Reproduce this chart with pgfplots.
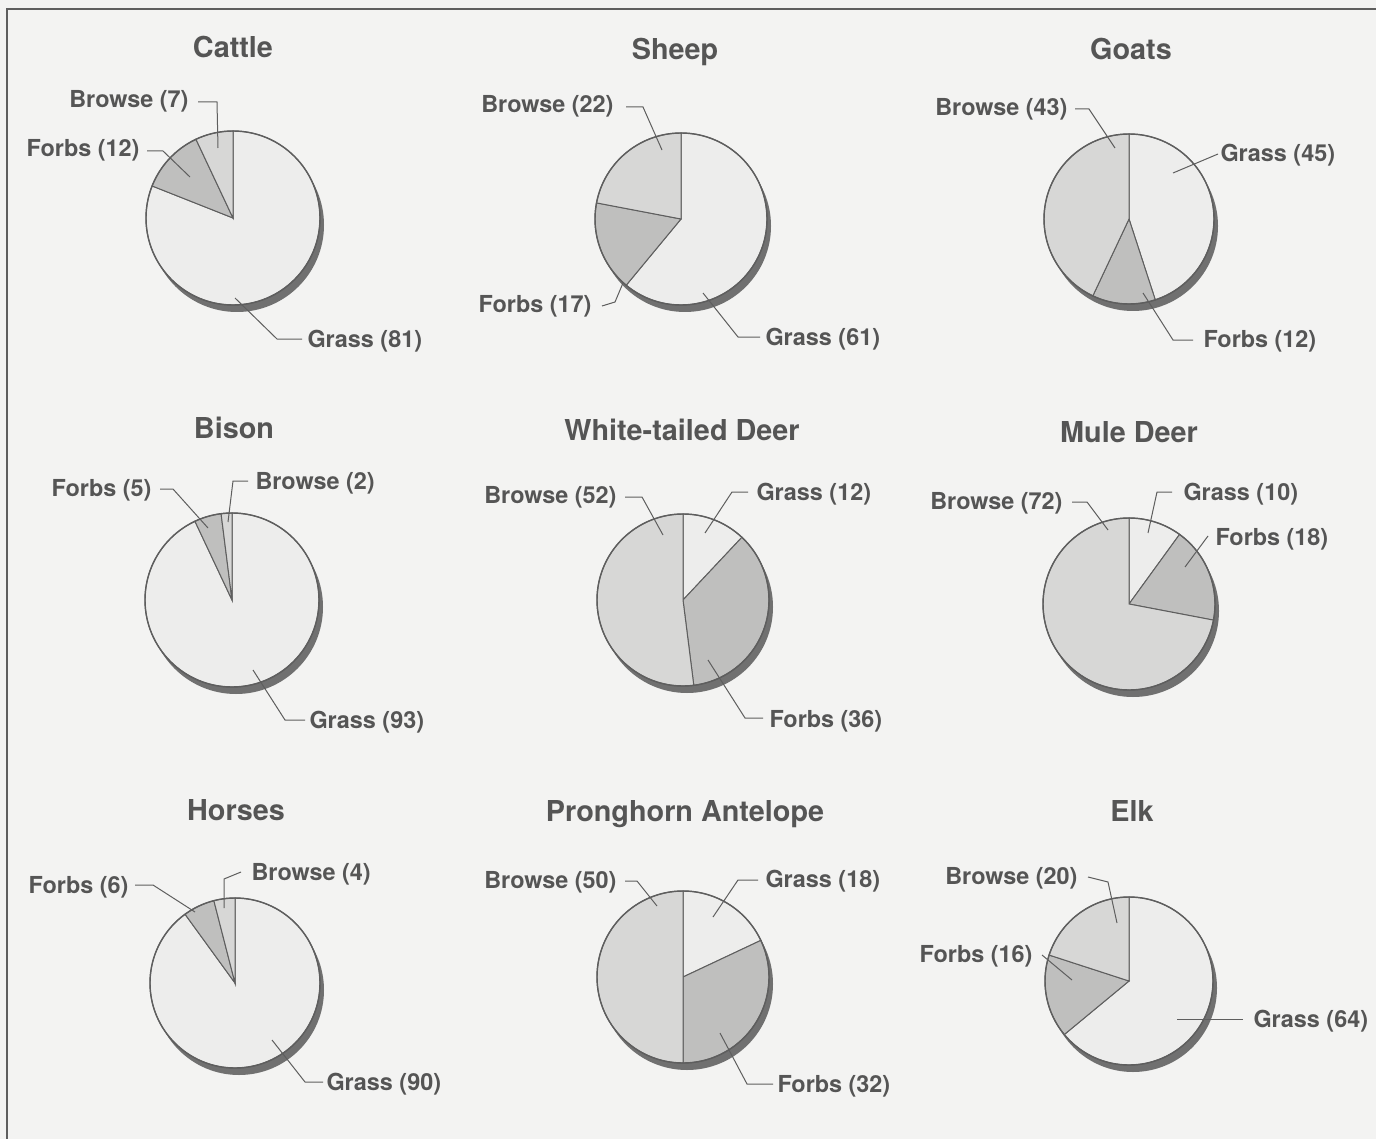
\documentclass[border=0pt]{standalone}
\usepackage{pgfplots}
\pgfplotsset{compat=1.18}
\usepackage{fontspec}
\setmainfont{TeX Gyre Heros}

\definecolor{bgc}{HTML}{F3F3F2}
\definecolor{txtc}{HTML}{555555}
\definecolor{edgec}{HTML}{5E5E5E}
\definecolor{shadowc}{HTML}{707070}
\definecolor{grassc}{HTML}{EDEDEC}
\definecolor{browsec}{HTML}{D7D7D6}
\definecolor{forbsc}{HTML}{BFBFBE}

% \pie{cx}{cy}{r}{grass}{forbs}{browse}  -- all positions in pixels, slices clockwise from 12 o'clock
\newcommand\pie[6]{%
  \fill[shadowc] ([shift={(2pt,-3.5pt)}]axis cs:#1,#2) circle[radius={#3*0.5pt}];
  \filldraw[fill=grassc,draw=edgec,line width=0.5pt] (axis cs:#1,#2) -- ++(90:{#3*0.5pt})
    arc[start angle=90,end angle={90-3.6*#4},radius={#3*0.5pt}] -- cycle;
  \filldraw[fill=forbsc,draw=edgec,line width=0.5pt] (axis cs:#1,#2) -- ++({90-3.6*#4}:{#3*0.5pt})
    arc[start angle={90-3.6*#4},end angle={90-3.6*(#4+#5)},radius={#3*0.5pt}] -- cycle;
  \filldraw[fill=browsec,draw=edgec,line width=0.5pt] (axis cs:#1,#2) -- ++({90-3.6*(#4+#5)}:{#3*0.5pt})
    arc[start angle={90-3.6*(#4+#5)},end angle=-270,radius={#3*0.5pt}] -- cycle;
  \draw[edgec,line width=0.7pt] (axis cs:#1,#2) circle[radius={#3*0.5pt}];
}
\newcommand\ttl[3]{\node[anchor=base,inner sep=0,text=txtc,font=\bfseries\fontsize{14.4}{16}\selectfont] at (axis cs:#1,#2) {#3};}
\newcommand\lbl[4]{\node[anchor=base #1,inner sep=0,text=txtc,font=\bfseries\fontsize{11.7}{13}\selectfont] at (axis cs:#2,#3) {#4};}

\begin{document}
\begin{tikzpicture}
\begin{axis}[
    at={(0,0)}, anchor=south west,
    width=688pt, height=569.5pt, scale only axis,
    xmin=0, xmax=1376, ymin=0, ymax=1139, y dir=reverse,
    hide axis, clip=false,
  ]
\fill[bgc] (axis cs:0,0) rectangle (axis cs:1376,1139);
\draw[edgec,line width=1.1pt] (axis cs:7,1150) -- (axis cs:7,9) -- (axis cs:1390,9);

\pie{233}{218}{87}{81}{12}{7}
\pie{681}{219}{86}{61}{17}{22}
\pie{1129}{219}{85}{45}{12}{43}
\pie{232}{600}{87}{93}{5}{2}
\pie{683}{600}{86}{12}{36}{52}
\pie{1129}{604}{86}{10}{18}{72}
\pie{235}{983}{85}{90}{6}{4}
\pie{683}{977}{86}{18}{32}{50}
\pie{1129}{981}{84}{64}{16}{20}

\ttl{233}{58}{Cattle}
\ttl{675}{60}{Sheep}
\ttl{1131}{60}{Goats}
\ttl{234}{438}{Bison}
\ttl{682}{440}{White-tailed Deer}
\ttl{1129}{442}{Mule Deer}
\ttl{236}{820}{Horses}
\ttl{685}{821}{Pronghorn Antelope}
\ttl{1132}{821}{Elk}

\begin{scope}[draw=edgec,line width=0.5pt]
% Cattle
\lbl{east}{189}{108}{Browse (7)}
\draw (axis cs:198,102) -- (axis cs:217,102) -- (axis cs:218,148);
\lbl{east}{140}{157}{Forbs (12)}
\draw (axis cs:147,151) -- (axis cs:163,151) -- (axis cs:190,177);
\lbl{west}{307}{347}{Grass (81)}
\draw (axis cs:235,298) -- (axis cs:277,339) -- (axis cs:302,339);
% Sheep
\lbl{east}{614}{113}{Browse (22)}
\draw (axis cs:626,107) -- (axis cs:643,107) -- (axis cs:662,150);
\lbl{east}{592}{313}{Forbs (17)}
\draw (axis cs:602,306) -- (axis cs:615,302) -- (axis cs:623,283);
\lbl{west}{765}{345}{Grass (61)}
\draw (axis cs:703,293) -- (axis cs:738,337) -- (axis cs:760,337);
% Goats
\lbl{east}{1068}{116}{Browse (43)}
\draw (axis cs:1075,109) -- (axis cs:1089,109) -- (axis cs:1115,148);
\lbl{west}{1220}{162}{Grass (45)}
\draw (axis cs:1218,154) -- (axis cs:1173,173);
\lbl{west}{1203}{348}{Forbs (12)}
\draw (axis cs:1143,293) -- (axis cs:1173,340) -- (axis cs:1193,340);
% Bison
\lbl{east}{152}{496}{Forbs (5)}
\draw (axis cs:160,489) -- (axis cs:173,489) -- (axis cs:208,528);
\lbl{west}{255}{489}{Browse (2)}
\draw (axis cs:248,481) -- (axis cs:233,481) -- (axis cs:228,522);
\lbl{west}{309}{728}{Grass (93)}
\draw (axis cs:253,670) -- (axis cs:285,720) -- (axis cs:305,720);
% White-tailed Deer
\lbl{east}{617}{503}{Browse (52)}
\draw (axis cs:625,497) -- (axis cs:642,497) -- (axis cs:663,535);
\lbl{west}{756}{500}{Grass (12)}
\draw (axis cs:748,492) -- (axis cs:732,492) -- (axis cs:705,533);
\lbl{west}{769}{727}{Forbs (36)}
\draw (axis cs:708,660) -- (axis cs:745,718) -- (axis cs:763,718);
% Mule Deer
\lbl{east}{1063}{509}{Browse (72)}
\draw (axis cs:1072,502) -- (axis cs:1087,502) -- (axis cs:1108,530);
\lbl{west}{1183}{500}{Grass (10)}
\draw (axis cs:1172,492) -- (axis cs:1157,492) -- (axis cs:1148,533);
\lbl{west}{1215}{545}{Forbs (18)}
\draw (axis cs:1208,536) -- (axis cs:1185,567);
% Horses
\lbl{east}{129}{893}{Forbs (6)}
\draw (axis cs:135,885) -- (axis cs:153,885) -- (axis cs:195,912);
\lbl{west}{251}{880}{Browse (4)}
\draw (axis cs:241,872) -- (axis cs:224,879) -- (axis cs:224,908);
\lbl{west}{326}{1090}{Grass (90)}
\draw (axis cs:272,1040) -- (axis cs:305,1082) -- (axis cs:323,1082);
% Pronghorn Antelope
\lbl{east}{617}{888}{Browse (50)}
\draw (axis cs:625,881) -- (axis cs:637,881) -- (axis cs:657,906);
\lbl{west}{765}{887}{Grass (18)}
\draw (axis cs:758,880) -- (axis cs:738,880) -- (axis cs:713,917);
\lbl{west}{777}{1092}{Forbs (32)}
\draw (axis cs:720,1033) -- (axis cs:747,1084) -- (axis cs:773,1084);
% Elk
\lbl{east}{1078}{884}{Browse (20)}
\draw (axis cs:1088,877) -- (axis cs:1108,882) -- (axis cs:1117,923);
\lbl{east}{1033}{962}{Forbs (16)}
\draw (axis cs:1042,955) -- (axis cs:1072,980);
\lbl{west}{1253}{1027}{Grass (64)}
\draw (axis cs:1177,1019) -- (axis cs:1243,1019);
\end{scope}
\end{axis}
\pgfresetboundingbox
\useasboundingbox (0,0) rectangle (688pt,569.5pt);
\end{tikzpicture}
\end{document}
